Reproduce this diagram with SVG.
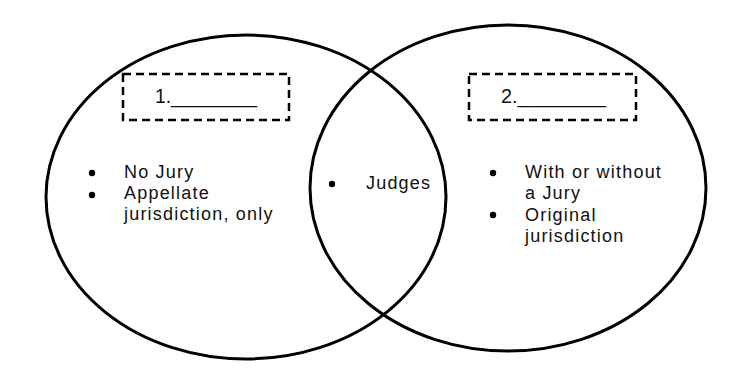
<svg xmlns="http://www.w3.org/2000/svg" width="750" height="375" viewBox="0 0 750 375">
<style>
.ell{fill:none;stroke:#000;stroke-width:3}
.box{fill:none;stroke:#000;stroke-width:2.5;stroke-dasharray:8 5}
.t{font-family:"Liberation Sans",Arial,sans-serif;font-size:18px;letter-spacing:1.2px;fill:#111}
.h{font-family:"Liberation Sans",Arial,sans-serif;font-size:20px;fill:#111}
.b{fill:#000}
</style>
<rect width="750" height="375" fill="#fff"/>
<g id="left-circle">
<ellipse class="ell" cx="246" cy="197" rx="200" ry="162"/>
<rect class="box" x="123" y="74" width="166" height="46"/>
<text class="h" x="155" y="103" textLength="102" lengthAdjust="spacingAndGlyphs">1.________</text>
<circle class="b" cx="92" cy="173" r="3.2"/>
<circle class="b" cx="92" cy="195" r="3.2"/>
<text class="t" x="124" y="178">No Jury</text>
<text class="t" x="124" y="199">Appellate</text>
<text class="t" x="124" y="220">jurisdiction, only</text>
</g>
<g id="right-circle">
<ellipse class="ell" cx="508" cy="188" rx="198" ry="163"/>
<rect class="box" x="469" y="74" width="167" height="46"/>
<text class="h" x="501" y="103" textLength="105" lengthAdjust="spacingAndGlyphs">2.________</text>
<circle class="b" cx="493" cy="173" r="3.2"/>
<circle class="b" cx="493" cy="215" r="3.2"/>
<text class="t" x="525" y="178">With or without</text>
<text class="t" x="525" y="199">a Jury</text>
<text class="t" x="525" y="221">Original</text>
<text class="t" x="525" y="242">jurisdiction</text>
</g>
<g id="overlap">
<circle class="b" cx="332" cy="184" r="3.2"/>
<text class="t" x="366" y="189">Judges</text>
</g>
<g id="connectors"></g>
</svg>
